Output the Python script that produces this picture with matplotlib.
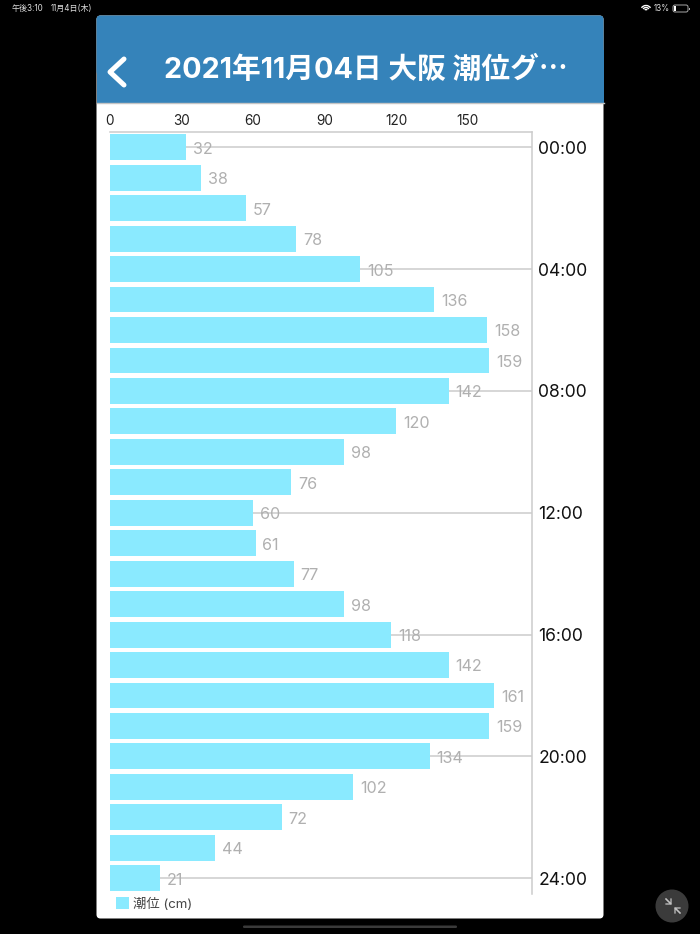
import matplotlib; matplotlib.use("Agg")
import matplotlib.pyplot as plt
from matplotlib.patches import FancyBboxPatch, Rectangle, Circle, Arc

plt.rcParams['font.family'] = ['Inter', 'Noto Sans CJK JP', 'DejaVu Sans']

hours = list(range(25))
tide_cm = [32, 38, 57, 78, 105, 136, 158, 159, 142, 120, 98, 76, 60,
           61, 77, 98, 118, 142, 161, 159, 134, 102, 72, 44, 21]
x_ticks = [0, 30, 60, 90, 120, 150]
y_ticks = [0, 4, 8, 12, 16, 20, 24]
y_labels = ["00:00", "04:00", "08:00", "12:00", "16:00", "20:00", "24:00"]
title = "2021年11月04日 大阪 潮位グ⋯"
series_name = "潮位 (cm)"

W, H = 700, 934
BAR = "#8aeaff"
GRID = "#cccccc"

fig = plt.figure(figsize=(7, 9.34), dpi=100, facecolor="black")

# ---------- app chrome, in pixel coords ----------
bg = fig.add_axes([0, 0, 1, 1])
bg.set_xlim(0, W); bg.set_ylim(H, 0); bg.axis("off")
bg.add_patch(FancyBboxPatch((96.5, 15.5), 507, 903, boxstyle="round,pad=0,rounding_size=4",
                            fc="white", ec="none"))
bg.add_patch(FancyBboxPatch((96.5, 15.5), 507, 60, boxstyle="round,pad=0,rounding_size=4",
                            fc="#3583ba", ec="none"))
bg.add_patch(Rectangle((96.5, 50), 507, 52.5, fc="#3583ba", ec="none"))
bg.plot([96.5, 603.5], [103, 103], c="#c4c4c4", lw=1)
bg.plot([124, 110, 124], [59, 72, 85], c="white", lw=3.6, solid_capstyle="round",
        solid_joinstyle="round")
bg.text(164, 70, title, color="white", fontsize=20.7, fontweight="bold", va="center", ha="left")

# status bar
bg.text(12, 8.5, "午後3:10", color="#dddddd", fontsize=5.8, va="center")
bg.text(51, 8.5, "11月4日(木)", color="#dddddd", fontsize=5.8, va="center")
bg.text(654, 8.5, "13%", color="#dddddd", fontsize=5.8, va="center")
for d in [11, 7, 3]:
    bg.add_patch(Arc((646, 11), d, d, theta1=215, theta2=325, color="white", lw=1))
bg.add_patch(FancyBboxPatch((673, 5), 15, 7, boxstyle="round,pad=0,rounding_size=2",
                            fc="black", ec="#aaaaaa", lw=.7))
bg.add_patch(Rectangle((674, 6), 1.5, 5, fc="white", ec="none"))
bg.add_patch(Rectangle((688.5, 7.5), 1, 2, fc="#aaaaaa", ec="none"))

# home indicator + shrink button
bg.add_patch(FancyBboxPatch((243, 925.5), 214, 2.5, boxstyle="round,pad=0,rounding_size=1.2",
                            fc="#3a3a3a", ec="none"))
bg.add_patch(Circle((672, 906), 16.5, fc="#3b3b3b", ec="none"))
arrow_paths = [([666, 671, 671], [899, 904, 899]), ([666, 671, 666], [899, 904, 904]),
               ([680, 675, 675], [913, 908, 913]), ([680, 675, 680], [913, 908, 908])]
for xs, ys in arrow_paths:
    bg.plot(xs, ys, c="#c4c4c4", lw=.9)

# ---------- chart ----------
ax = fig.add_axes([110/W, 1-893.5/H, (531.5-110)/W, (893.5-132)/H])
ax.patch.set_alpha(0)
ax.barh(hours, tide_cm, height=0.85, color=BAR, edgecolor="none", zorder=3, label=series_name)
ax.set_xlim(0, 176.7)
ax.set_ylim(24.5, -0.5)
for h in y_ticks:
    ax.axhline(h, c=GRID, lw=1.1, zorder=1)
for h, v in zip(hours, tide_cm):
    ax.annotate(str(v), (v, h), xytext=(5.0, -1.4), textcoords="offset points",
                color="#b0b0b0", fontsize=11.6, va="center", ha="left", zorder=4)

ax.xaxis.tick_top()
ax.set_xticks(x_ticks)
ax.tick_params(axis="x", length=0, pad=2.8, labelsize=9.8, labelcolor="#222222")
ax.yaxis.tick_right()
ax.set_yticks(y_ticks, y_labels)
ax.tick_params(axis="y", length=0, pad=5.0, labelsize=12.6, labelcolor="#111111")
for s in ["left", "bottom"]:
    ax.spines[s].set_visible(False)
for s in ["top", "right"]:
    ax.spines[s].set_color(GRID); ax.spines[s].set_linewidth(1.1)

fig.legend(loc="center left", bbox_to_anchor=(113.5/W, 1-904/H), frameon=False, fontsize=9.6,
           handlelength=.95, handleheight=.95, handletextpad=.3, labelcolor="#444444",
           borderpad=.2, borderaxespad=0)

fig.savefig("out.png", dpi=100, facecolor="black")
